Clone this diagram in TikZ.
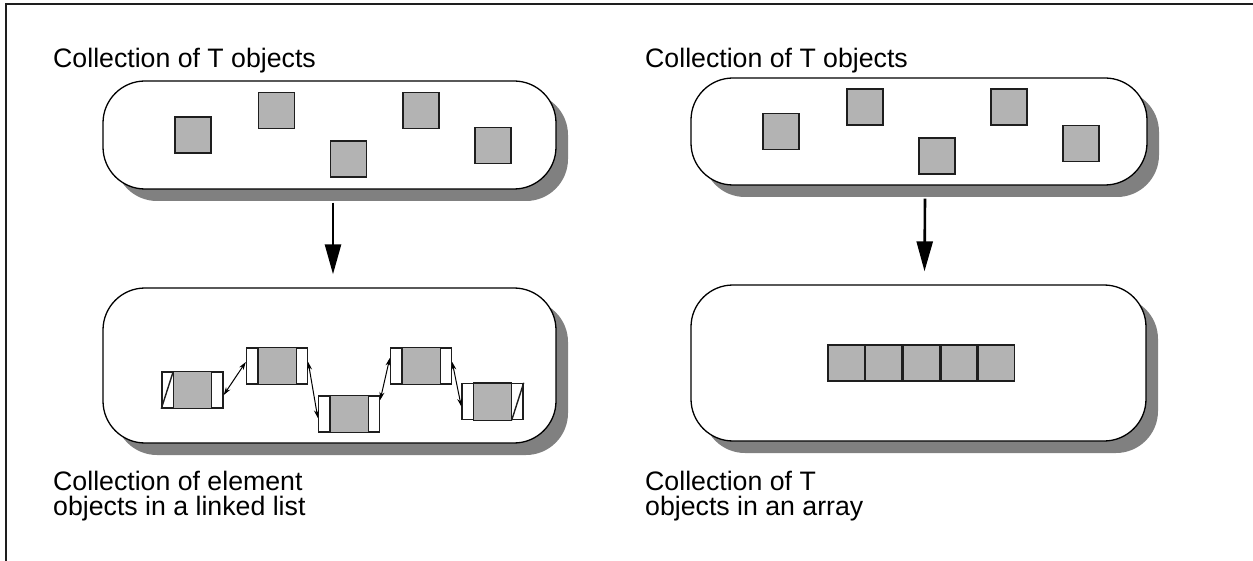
\documentclass[tikz,border=0pt]{standalone}
\usepackage{fontspec}
\setmainfont{Liberation Sans}
\usetikzlibrary{arrows.meta,shadows}
\definecolor{sqgray}{RGB}{179,179,179}
\definecolor{shgray}{RGB}{128,128,128}
\definecolor{ink}{RGB}{30,30,30}
\tikzset{
  capsule/.style={draw=black, fill=white, line width=1.3pt, rounded corners=42pt, inner sep=0pt,
    general shadow={shadow xshift=12pt, shadow yshift=-12pt, fill=shgray}},
  tsq/.style={draw=ink, fill=sqgray, line width=1.4pt, minimum size=36pt, inner sep=0pt},
  elem/.style={draw=ink, fill=white, line width=1.4pt, minimum width=61pt, minimum height=36pt, inner sep=0pt},
  bigarrow/.style={draw=black, line width=2.6pt, -{Triangle[width=16pt,length=30pt]}},
  linkarrow/.style={draw=black, line width=1pt, {Stealth[length=8pt,width=5pt]}-{Stealth[length=8pt,width=5pt]}},
  lbl/.style={anchor=base west, inner sep=0pt, font=\fontsize{26.7}{21}\selectfont},
  frameline/.style={draw=ink, line width=2pt}
}
\begin{document}
\begin{tikzpicture}[x=1pt,y=-1pt]
\useasboundingbox (0,0) rectangle (1253,561);
% frame
\coordinate (fr1) at (1253,4);
\coordinate (fr2) at (6,4);
\coordinate (fr3) at (6,561);
\draw[frameline] (fr1) -- (fr2) -- (fr3);

% labels
\node[lbl] (t1) at (53,68) {Collection of T objects};
\node[lbl] (t2) at (645,68) {Collection of T objects};
\node[lbl] (t3) at (53,490) {Collection of element};
\node[lbl] (t3b) at (53,515) {objects in a linked list};
\node[lbl] (t4) at (645,490) {Collection of T};
\node[lbl] (t4b) at (645,515) {objects in an array};

% capsules
\node[capsule, minimum width=453pt, minimum height=108pt] (tl) at (329.5,135) {};
\node[capsule, minimum width=456pt, minimum height=107pt] (tr) at (919,131.5) {};
\node[capsule, minimum width=453pt, minimum height=155pt] (bl) at (329.5,365.5) {};
\node[capsule, minimum width=455pt, minimum height=156pt] (br) at (918.5,363) {};

% squares top left
\node[tsq] (s1) at (193,135) {};
\node[tsq] (s2) at (276.5,110.5) {};
\node[tsq] (s3) at (348.5,159) {};
\node[tsq] (s4) at (421,110.5) {};
\node[tsq] (s5) at (493,145.5) {};
% squares top right
\node[tsq] (r1) at (781,131.5) {};
\node[tsq] (r2) at (865,107) {};
\node[tsq] (r3) at (937,156) {};
\node[tsq] (r4) at (1009,107) {};
\node[tsq] (r5) at (1081,143.5) {};

% big arrows
\draw[bigarrow] ([xshift=3.5pt,yshift=-13pt]tl.south) -- ([xshift=3.5pt,yshift=13pt]bl.north);
\draw[bigarrow] ([xshift=6pt,yshift=-13pt]tr.south) -- ([xshift=6pt,yshift=13pt]br.north);

% array
\node[tsq, minimum size=36.2pt] (a1) at (846.1,363) {};
\node[tsq, minimum size=36.2pt, anchor=west] (a2) at (a1.east) {};
\node[tsq, minimum size=36.2pt, anchor=west] (a3) at (a2.east) {};
\node[tsq, minimum size=36.2pt, anchor=west] (a4) at (a3.east) {};
\node[tsq, minimum size=36.2pt, anchor=west] (a5) at (a4.east) {};

% linked list elements
\node[elem] (e1) at (192.5,390) {};
\node[elem] (e2) at (277,366) {};
\node[elem] (e3) at (349,414) {};
\node[elem] (e4) at (421,366) {};
\node[elem] (e5) at (492.5,401.5) {};
\foreach \e in {e1,e2,e3,e4,e5}{
  \filldraw[draw=ink, fill=sqgray, line width=1.4pt] ([xshift=12pt]\e.north west) rectangle ([xshift=-12pt]\e.south east);
}
\draw[draw=ink, line width=1.4pt] (e1.south west) -- ([xshift=12pt]e1.north west);
\draw[draw=ink, line width=1.4pt] ([xshift=-12pt]e5.south east) -- (e5.north east);

% links
\draw[linkarrow] ([yshift=-5pt]e1.east) -- ([yshift=4pt]e2.west);
\draw[linkarrow] ([yshift=4pt]e2.east) -- ([yshift=-4pt]e3.west);
\draw[linkarrow] ([yshift=14pt]e3.east) -- ([yshift=8pt]e4.west);
\draw[linkarrow] ([yshift=4pt]e4.east) -- ([yshift=-5pt]e5.west);
\end{tikzpicture}
\end{document}
